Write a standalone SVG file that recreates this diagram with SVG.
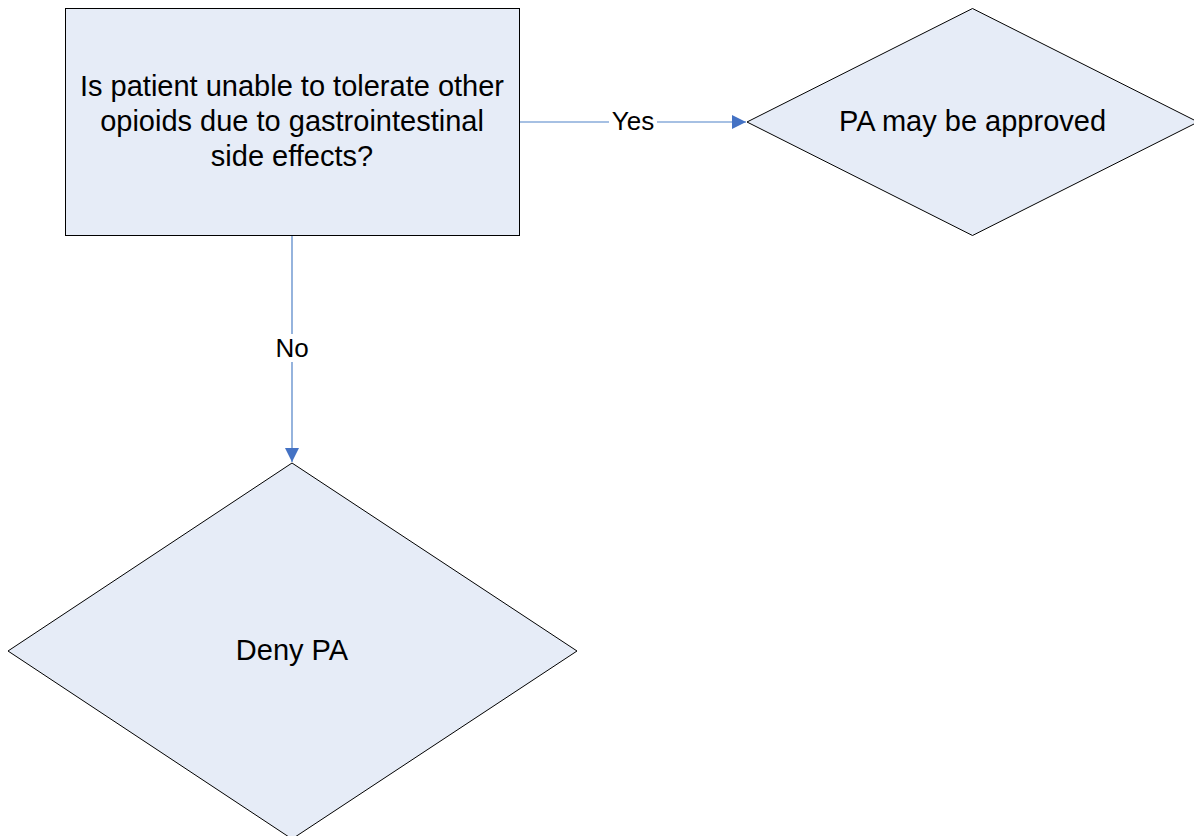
<svg xmlns="http://www.w3.org/2000/svg" width="1194" height="836" viewBox="0 0 1194 836">
<style>
.shape{fill:#e6ecf7;stroke:#000;stroke-width:1}
.t{font-family:"Liberation Sans",Arial,sans-serif;font-size:29px;fill:#000;text-anchor:middle}
.lbl{font-family:"Liberation Sans",Arial,sans-serif;font-size:26px;fill:#000;text-anchor:middle}
.conn{stroke:#4f81c7;stroke-width:1.2;fill:none}
</style>
<defs>
<marker id="arr" viewBox="0 0 10 10" refX="10" refY="5" markerWidth="14" markerHeight="14" markerUnits="userSpaceOnUse" orient="auto">
<path d="M0,0 L10,5 L0,10 z" fill="#4472c4"/>
</marker>
</defs>
<rect width="1194" height="836" fill="#fff"/>
<g id="connectors">
<g id="c-yes">
<line class="conn" x1="520" y1="122" x2="746" y2="122" marker-end="url(#arr)"/>
<rect x="609" y="108" width="48" height="28" fill="#fff"/>
<text class="lbl" x="633" y="130">Yes</text>
</g>
<g id="c-no">
<line class="conn" x1="292" y1="235" x2="292" y2="462" marker-end="url(#arr)"/>
<rect x="272" y="334" width="40" height="28" fill="#fff"/>
<text class="lbl" x="292" y="357">No</text>
</g>
</g>
<g id="n-question">
<rect class="shape" x="65.5" y="8.5" width="454" height="227"/>
<text class="t" x="292" y="96">Is patient unable to tolerate other</text>
<text class="t" x="292" y="131">opioids due to gastrointestinal</text>
<text class="t" x="292" y="166">side effects?</text>
</g>
<g id="n-approve">
<polygon class="shape" points="972.5,8.5 1198,122 972.5,235.5 747,122"/>
<text class="t" x="972.5" y="131">PA may be approved</text>
</g>
<g id="n-deny">
<polygon class="shape" points="292,463 577,651 292,839 8,651"/>
<text class="t" x="292" y="660">Deny PA</text>
</g>
</svg>
